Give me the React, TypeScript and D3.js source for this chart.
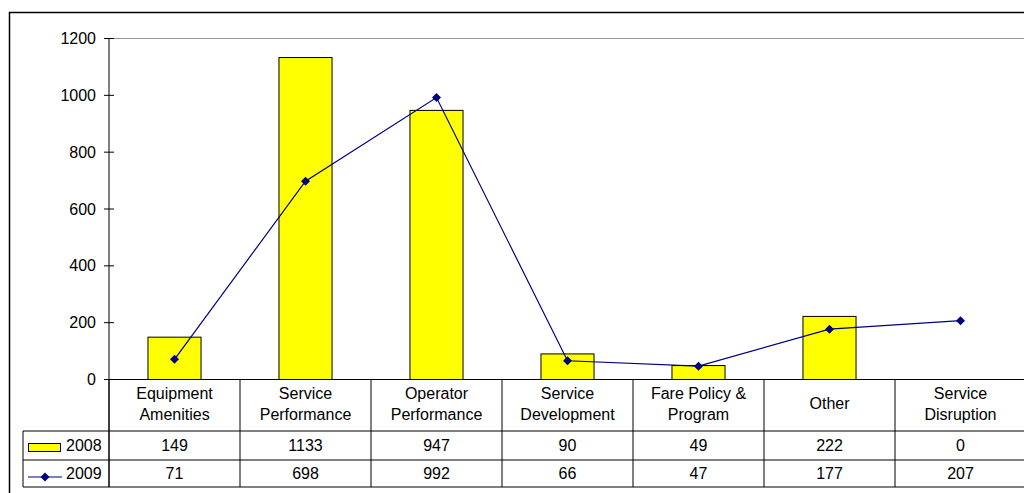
import React from "react";
import * as d3 from "d3";

const categories: string[][] = [
  ["Equipment", "Amenities"],
  ["Service", "Performance"],
  ["Operator", "Performance"],
  ["Service", "Development"],
  ["Fare Policy &", "Program"],
  ["Other"],
  ["Service", "Disruption"],
];
const values2008 = [149, 1133, 947, 90, 49, 222, 0];
const values2009 = [71, 698, 992, 66, 47, 177, 207];
const yTicks = [0, 200, 400, 600, 800, 1000, 1200];

const W = 1024;
const H = 493;
const plotLeft = 109;
const plotRight = 1026;
const plotTop = 38.5;
const plotBottom = 379.5;
const rowCat = 431;
const row2008 = 460;
const row2009 = 487;
const tableLeft = 23;
const font = "'Liberation Sans', Arial, sans-serif";
const fs = 16;

export default function App() {
  const x = d3
    .scaleBand<number>()
    .domain(categories.map((_, i) => i))
    .range([plotLeft, plotRight])
    .padding(0);
  const y = d3.scaleLinear().domain([0, 1200]).range([plotBottom, plotTop]);
  const bw = x.bandwidth();
  const barW = bw * 0.405;
  const cx = (i: number) => (x(i) as number) + bw / 2;
  const line = d3
    .line<number>()
    .x((_, i) => cx(i))
    .y((d) => y(d));

  const boundaries = categories.map((_, i) => x(i) as number).concat([plotRight]);

  return (
    <svg
      width={W}
      height={H}
      style={{ position: "absolute", left: 0, top: 0, display: "block", background: "#fff" }}
      fontFamily={font}
    >
      <rect x={9.5} y={12.5} width={1100} height={500} fill="none" stroke="#000" strokeWidth={1.5} />
      <line x1={plotLeft} x2={plotRight} y1={plotTop} y2={plotTop} stroke="#999" strokeWidth={1} />
      {values2008.map((v, i) => (
        <rect
          key={i}
          x={cx(i) - barW / 2}
          y={y(v)}
          width={barW}
          height={plotBottom - y(v)}
          fill="#FFFF00"
          stroke="#000"
          strokeWidth={1}
        />
      ))}
      <line x1={plotLeft} x2={plotLeft} y1={plotTop} y2={row2009} stroke="#000" strokeWidth={1} />
      {yTicks.map((t) => (
        <g key={t}>
          <line x1={plotLeft - 5} x2={plotLeft + 5} y1={y(t)} y2={y(t)} stroke="#000" />
          <text x={96} y={y(t) + 5.5} fontSize={fs} textAnchor="end" fill="#000">
            {t}
          </text>
        </g>
      ))}
      <path d={line(values2009) || ""} fill="none" stroke="#000080" strokeWidth={1.2} />
      {values2009.map((v, i) => (
        <path
          key={i}
          d={`M${cx(i)},${y(v) - 4.5}L${cx(i) + 4.5},${y(v)}L${cx(i)},${y(v) + 4.5}L${cx(i) - 4.5},${y(v)}Z`}
          fill="#000080"
        />
      ))}
      <line x1={plotLeft - 5} x2={plotRight} y1={plotBottom} y2={plotBottom} stroke="#000" />
      <line x1={tableLeft} x2={plotRight} y1={rowCat} y2={rowCat} stroke="#000" />
      <line x1={tableLeft} x2={plotRight} y1={row2008} y2={row2008} stroke="#000" />
      <line x1={tableLeft} x2={plotRight} y1={row2009} y2={row2009} stroke="#000" />
      <line x1={tableLeft} x2={tableLeft} y1={rowCat} y2={row2009} stroke="#000" />
      {boundaries.map((b, i) => (
        <line key={i} x1={b} x2={b} y1={plotBottom} y2={row2009} stroke="#000" />
      ))}
      {categories.map((lines, i) =>
        lines.length === 1 ? (
          <text key={i} x={cx(i)} y={409} fontSize={fs} textAnchor="middle" fill="#000">
            {lines[0]}
          </text>
        ) : (
          <text key={i} x={cx(i)} fontSize={fs} textAnchor="middle" fill="#000">
            <tspan x={cx(i)} y={399}>
              {lines[0]}
            </tspan>
            <tspan x={cx(i)} y={420}>
              {lines[1]}
            </tspan>
          </text>
        )
      )}
      {values2008.map((v, i) => (
        <text key={i} x={cx(i)} y={451} fontSize={fs} textAnchor="middle" fill="#000">
          {v}
        </text>
      ))}
      {values2009.map((v, i) => (
        <text key={i} x={cx(i)} y={479} fontSize={fs} textAnchor="middle" fill="#000">
          {v}
        </text>
      ))}
      <rect x={28.5} y={443.5} width={32} height={8} fill="#FFFF00" stroke="#000" />
      <text x={66} y={451} fontSize={fs} fill="#000">2008</text>
      <line x1={28} x2={62} y1={477} y2={477} stroke="#000080" strokeWidth={1.2} />
      <path d="M45,472.5L49.5,477L45,481.5L40.5,477Z" fill="#000080" />
      <text x={66} y={479} fontSize={fs} fill="#000">2009</text>
    </svg>
  );
}
